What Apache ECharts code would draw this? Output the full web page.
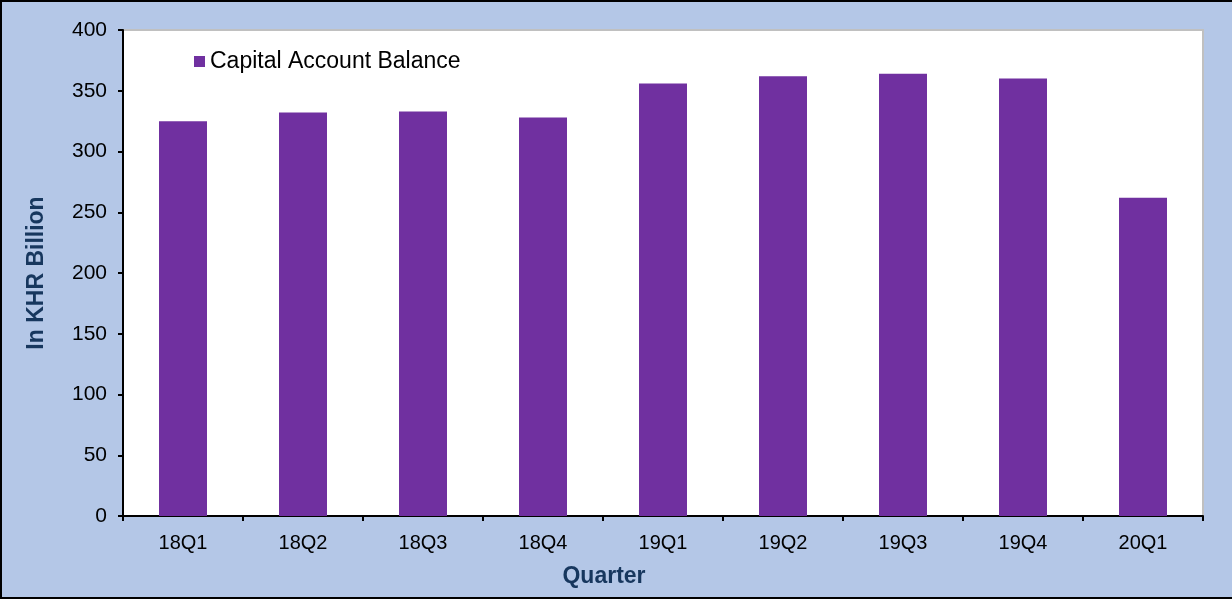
<!DOCTYPE html>
<html>
<head>
<meta charset="utf-8">
<script src="https://cdn.jsdelivr.net/npm/echarts@6/dist/echarts.min.js"></script>
<style>
  html, body { margin: 0; padding: 0; background: #B4C7E7; }
  #chart {
    width: 1232px;
    height: 599px;
    box-sizing: border-box;
    border: 2px solid #000;
    border-right: none;
    background: #B4C7E7;
  }
</style>
</head>
<body>
<div id="chart"></div>
<script>
const quarters = ['18Q1', '18Q2', '18Q3', '18Q4', '19Q1', '19Q2', '19Q3', '19Q4', '20Q1']
const capitalAccount = [325, 332, 333, 328, 356, 362, 364, 360, 262]

const font = 'Liberation Sans, Arial, sans-serif'
const navy = '#17375E'

const chart = echarts.init(document.getElementById('chart'))

chart.setOption({
  animation: false,
  textStyle: { fontFamily: font },
  legend: {
    data: ['Capital Account Balance'],
    left: 187,
    top: 43,
    icon: 'rect',
    itemWidth: 11,
    itemHeight: 11,
    textStyle: { color: '#000', fontSize: 23, fontFamily: font },
  },
  grid: {
    left: 121,
    top: 28,
    right: 29,
    bottom: 81,
    show: true,
    backgroundColor: '#fff',
    borderColor: '#C0C0C0',
    borderWidth: 2,
  },
  xAxis: {
    type: 'category',
    data: quarters,
    name: 'Quarter',
    nameLocation: 'middle',
    nameGap: 49,
    // title sits left of the plot centre in the original
    nameTextStyle: { color: navy, fontSize: 23, fontWeight: 'bold', fontFamily: font, padding: [0, 118, 0, 0] },
    axisLine: { lineStyle: { color: '#000', width: 2 } },
    axisTick: { show: true, length: 5, lineStyle: { color: '#000', width: 2 } },
    axisLabel: { color: '#000', fontSize: 20, margin: 17, fontFamily: font },
    splitLine: { show: false },
  },
  yAxis: {
    type: 'value',
    min: 0,
    max: 400,
    interval: 50,
    name: 'In KHR Billion',
    nameLocation: 'middle',
    nameGap: 75,
    nameTextStyle: { color: navy, fontSize: 23, fontWeight: 'bold', fontFamily: font },
    axisLine: { show: true, lineStyle: { color: '#000', width: 2 } },
    axisTick: { show: true, length: 5, lineStyle: { color: '#000', width: 2 } },
    axisLabel: { color: '#000', fontSize: 21, margin: 16, fontFamily: font },
    splitLine: { show: false },
  },
  series: [
    {
      name: 'Capital Account Balance',
      type: 'bar',
      data: capitalAccount,
      barWidth: 48,
      itemStyle: { color: '#7030A0' },
    },
  ],
})
</script>
</body>
</html>
